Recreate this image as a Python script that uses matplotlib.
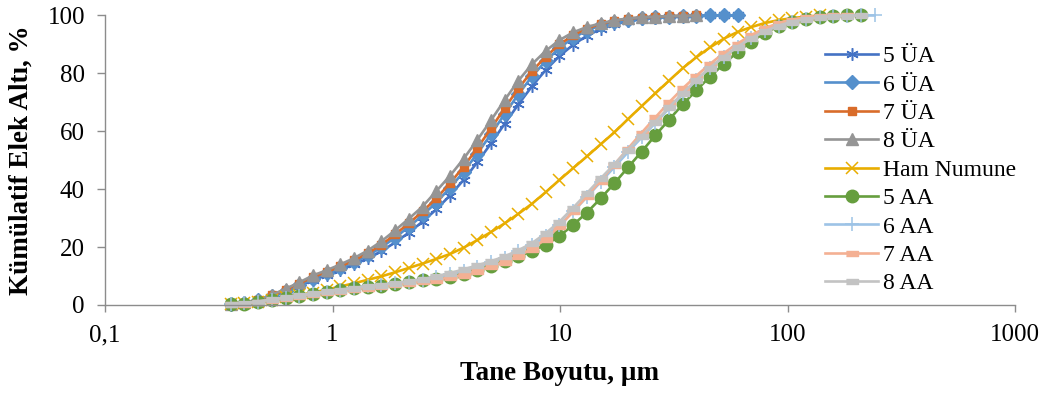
import matplotlib
matplotlib.use("Agg")
import matplotlib.pyplot as plt
from matplotlib.ticker import FixedLocator, FixedFormatter

# particle size classes (um)
size_um = [0.357, 0.410, 0.471, 0.541, 0.622, 0.714, 0.820, 0.942, 1.082, 1.243,
           1.428, 1.641, 1.884, 2.165, 2.487, 2.856, 3.281, 3.769, 4.329, 4.973,
           5.712, 6.562, 7.538, 8.658, 9.946, 11.43, 13.12, 15.08, 17.32, 19.89,
           22.85, 26.25, 30.15, 34.63, 39.78, 45.70, 52.50, 60.30, 69.27, 79.57,
           91.40, 105.0, 120.6, 138.5, 159.1, 182.8, 210.0, 241.2]

# cumulative undersize, %
ua5 = [0.3, 0.8, 1.6, 2.9, 4.6, 6.5, 8.5, 10.3, 12.1, 14.0,
       16.1, 18.6, 21.6, 25.0, 28.8, 33.0, 37.8, 43.2, 49.3, 55.8,
       62.6, 69.3, 75.6, 81.2, 86.0, 89.9, 93.0, 95.3, 96.9, 98.0,
       98.7, 99.2, 99.5, 99.7, 99.9, 100, 100, 100]
ua6 = [0.3, 0.8, 1.6, 3.0, 4.9, 6.9, 9.0, 10.9, 12.8, 14.8,
       17.1, 19.9, 23.3, 27.0, 31.0, 35.4, 40.4, 46.0, 52.3, 59.0,
       66.0, 72.8, 79.0, 84.3, 88.8, 92.3, 94.8, 96.6, 97.8, 98.6,
       99.1, 99.4, 99.6, 99.8, 99.9, 100, 100, 100]
ua7 = [0.3, 0.8, 1.7, 3.3, 5.3, 7.4, 9.6, 11.4, 13.3, 15.4,
       17.8, 20.8, 24.4, 28.2, 32.3, 36.8, 42.0, 47.8, 54.2, 61.0,
       68.0, 74.8, 80.8, 85.8, 90.0, 93.2, 95.5, 97.1, 98.2, 98.9,
       99.3, 99.6, 99.8, 99.9, 100]
ua8 = [0.3, 0.9, 1.8, 3.5, 5.6, 7.8, 10.2, 12.0, 14.0, 16.2,
       18.8, 22.0, 25.8, 29.8, 34.0, 39.3, 44.6, 50.5, 57.0, 63.8,
       70.8, 77.5, 83.2, 87.8, 91.5, 94.2, 96.0, 97.3, 98.3, 99.0,
       99.4, 99.6, 99.8, 99.9, 100]
ham = [0.2, 0.6, 1.1, 1.8, 2.6, 3.4, 4.3, 5.3, 6.4, 7.5,
       8.7, 9.9, 11.3, 12.8, 14.3, 15.9, 17.6, 19.8, 22.4, 25.2,
       28.2, 31.5, 35.0, 39.0, 43.2, 47.3, 51.3, 55.5, 59.6, 64.2,
       68.7, 73.1, 77.5, 81.8, 85.6, 89.0, 92.0, 94.3, 96.0, 97.4,
       98.4, 99.1, 99.6, 100]
aa5 = [0.2, 0.5, 1.1, 1.7, 2.4, 3.1, 3.8, 4.5, 5.1, 5.7,
       6.2, 6.7, 7.3, 7.9, 8.5, 9.1, 9.8, 10.8, 12.1, 13.5,
       15.1, 16.8, 18.7, 20.8, 23.8, 27.7, 31.9, 36.8, 42.0, 47.5,
       53.0, 58.6, 64.0, 69.3, 74.2, 78.9, 83.3, 87.4, 91.0, 94.0,
       96.3, 97.9, 98.9, 99.5, 99.8, 100, 100]
aa6 = [0.2, 0.6, 1.2, 1.8, 2.5, 3.2, 3.9, 4.6, 5.2, 5.8,
       6.4, 6.9, 7.5, 8.1, 8.8, 9.6, 10.6, 11.8, 13.2, 14.7,
       16.4, 18.5, 20.6, 23.8, 27.6, 32.3, 37.3, 42.5, 47.6, 52.8,
       57.9, 62.9, 67.9, 72.8, 77.8, 82.0, 85.8, 89.2, 92.2, 94.6,
       96.5, 97.9, 98.9, 99.5, 99.8, 99.9, 100, 100]
aa7 = [0.2, 0.5, 1.1, 1.7, 2.4, 3.1, 3.8, 4.4, 5.0, 5.5,
       6.0, 6.5, 7.1, 7.6, 8.2, 8.8, 9.5, 10.5, 11.8, 13.3,
       15.0, 16.9, 19.4, 22.8, 27.2, 32.3, 37.5, 43.0, 48.5, 54.0,
       59.5, 64.8, 70.0, 74.8, 79.2, 83.3, 87.0, 90.3, 93.2, 95.6,
       97.4, 98.6, 99.4, 99.8, 100, 100]
aa8 = [0.2, 0.6, 1.2, 1.9, 2.6, 3.3, 4.0, 4.7, 5.3, 5.9,
       6.5, 7.0, 7.6, 8.2, 8.9, 9.9, 11.0, 12.3, 13.7, 15.1,
       16.8, 18.9, 21.4, 24.8, 28.8, 33.6, 38.6, 43.7, 48.6, 53.6,
       58.4, 63.3, 68.3, 73.2, 77.8, 82.0, 85.8, 89.2, 92.2, 94.6,
       96.5, 97.9, 98.8, 99.4, 99.7, 99.9, 100]

x_ticks = [0.1, 1, 10, 100, 1000]
x_tick_labels = ["0,1", "1", "10", "100", "1000"]
y_ticks = [0, 20, 40, 60, 80, 100]

dash = [(-1, -0.45), (1, -0.45), (1, 0.45), (-1, 0.45)]

series = [
    ("5 ÜA", ua5, "#4472C4", dict(marker=(6, 2, 0), ms=9, mew=1.1)),
    ("6 ÜA", ua6, "#5590CC", dict(marker="D", ms=7)),
    ("7 ÜA", ua7, "#D96C2A", dict(marker="s", ms=6)),
    ("8 ÜA", ua8, "#959595", dict(marker="^", ms=9)),
    ("Ham Numune", ham, "#E8AD00", dict(marker="x", ms=9, mew=1.1)),
    ("5 AA", aa5, "#669E3E", dict(marker="o", ms=9)),
    ("6 AA", aa6, "#9DC3E6", dict(marker="+", ms=10, mew=1.1)),
    ("7 AA", aa7, "#F4B093", dict(marker=dash, ms=8)),
    ("8 AA", aa8, "#C3C3C3", dict(marker=dash, ms=8)),
]

plt.rcParams["font.family"] = ["Liberation Serif", "DejaVu Serif"]

fig = plt.figure(figsize=(10.45, 3.94), dpi=100)
ax = fig.add_axes([0.1005, 0.2259, 0.8708, 0.7348])

for name, vals, color, style in series:
    ax.plot(size_um[:len(vals)], vals, color=color, lw=1.9, label=name,
            mfc=color, mec=color, clip_on=False, **style)

ax.set_xscale("log")
ax.set_xlim(0.1, 1000)
ax.set_ylim(0, 100)
ax.xaxis.set_major_locator(FixedLocator(x_ticks))
ax.xaxis.set_major_formatter(FixedFormatter(x_tick_labels))
ax.xaxis.set_minor_locator(FixedLocator([]))
ax.set_yticks(y_ticks)

for side in ["top", "right"]:
    ax.spines[side].set_visible(False)
for side in ["left", "bottom"]:
    ax.spines[side].set_color("#8C8C8C")
    ax.spines[side].set_linewidth(1.0)

ax.tick_params(axis="both", colors="#8C8C8C", labelcolor="black",
               labelsize=18, direction="out", width=1.0)
ax.tick_params(axis="y", length=5.5, pad=9)
ax.tick_params(axis="x", length=5, pad=9)

ax.set_xlabel("Tane Boyutu, µm", fontsize=19.5, fontweight="bold")
ax.set_ylabel("Kümülatif Elek Altı, %", fontsize=19.5, fontweight="bold")
ax.xaxis.set_label_coords(0.5, -0.195)
ax.yaxis.set_label_coords(-0.078, 0.5)

ax.legend(loc="center left", bbox_to_anchor=(0.7895, 0.5685),
          bbox_transform=fig.transFigure, frameon=False, fontsize=17,
          handlelength=2.25, handletextpad=0.2, labelspacing=0.29,
          borderpad=0, borderaxespad=0, numpoints=1)

fig.savefig("out.png", dpi=100)
